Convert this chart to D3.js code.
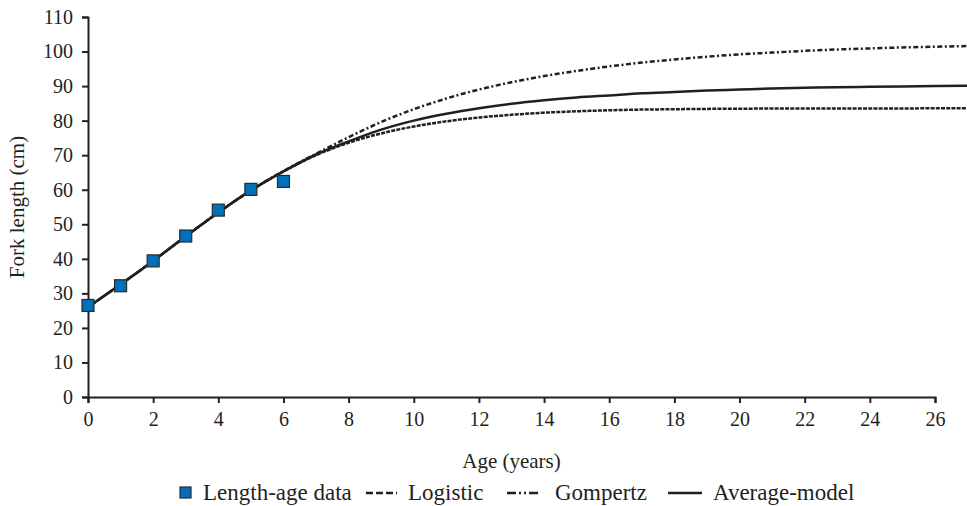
<!DOCTYPE html>
<html>
<head>
<meta charset="utf-8">
<script src="https://cdn.jsdelivr.net/npm/d3@7"></script>
<style>
  body { margin: 0; background: #fff; }
  svg text { font-family: "Liberation Serif", "Times New Roman", serif; fill: #231f20; }
</style>
</head>
<body>
<div id="chart-area"></div>
<script>
// observed length-at-age
var dataAges = [0, 1, 2, 3, 4, 5, 6];
var dataLengths = [26.5, 32.2, 39.4, 46.6, 54.1, 60.1, 62.4];

var curveAges = [0,1,2,3,4,5,6,7,8,9,10,11,12,13,14,15,16,17,18,19,20,21,22,23,24,25,26,27];
var logistic = [26.0,32.6,39.4,46.5,53.4,59.8,65.3,70.0,73.6,76.3,78.3,79.8,80.9,81.7,82.3,82.7,83.0,83.2,83.3,83.4,83.45,83.5,83.5,83.5,83.5,83.5,83.6,83.6];
var gompertz = [26.0,32.6,39.4,46.5,53.4,59.8,65.4,70.4,75.2,79.6,83.3,86.4,89.0,91.1,92.9,94.4,95.7,96.8,97.7,98.5,99.2,99.7,100.2,100.6,100.9,101.2,101.4,101.6];
var average = [26.0,32.6,39.4,46.5,53.4,59.8,65.3,70.2,74.0,77.4,80.0,82.0,83.6,84.9,85.9,86.7,87.3,87.9,88.3,88.7,89.0,89.3,89.5,89.7,89.8,89.9,90.0,90.1];

var xTicks = [0,2,4,6,8,10,12,14,16,18,20,22,24,26];
var yTicks = [0,10,20,30,40,50,60,70,80,90,100,110];

var width = 967, height = 506;
var ink = "#231f20";
var serif = "Liberation Serif, Times New Roman, serif";

var svg = d3.select("#chart-area").append("svg")
    .attr("width", width)
    .attr("height", height);

var x = d3.scaleLinear().domain([0, 26]).range([88, 935]);
var y = d3.scaleLinear().domain([0, 110]).range([397, 17]);

// axes
var bottomAxis = d3.axisBottom(x).tickValues(xTicks).tickSize(6).tickSizeOuter(6).tickPadding(9);
svg.append("g")
    .attr("transform", "translate(0," + y(0) + ")")
    .call(bottomAxis)
    .attr("font-family", serif)
    .attr("font-size", "20px");

var leftAxis = d3.axisLeft(y).tickValues(yTicks).tickSize(6).tickSizeOuter(6).tickPadding(9);
svg.append("g")
    .attr("transform", "translate(" + x(0) + ",0)")
    .call(leftAxis)
    .attr("font-family", serif)
    .attr("font-size", "20px");

svg.selectAll(".domain, .tick line").attr("stroke", ink).attr("stroke-width", 2);
svg.selectAll(".tick text").attr("fill", ink);

// curves
var line = d3.line()
    .x(function(d) { return x(d[0]); })
    .y(function(d) { return y(d[1]); })
    .curve(d3.curveMonotoneX);

var series = [
    {name: "Logistic", values: logistic, dash: "4,1.2"},
    {name: "Gompertz", values: gompertz, dash: "5,2.5,2,2.5"},
    {name: "Average-model", values: average, dash: null}
];

series.forEach(function(s) {
    svg.append("path")
        .datum(curveAges.map(function(a, i) { return [a, s.values[i]]; }))
        .attr("d", line)
        .attr("fill", "none")
        .attr("stroke", ink)
        .attr("stroke-width", 2.5)
        .attr("stroke-dasharray", s.dash);
});

// data squares
svg.selectAll("rect.pt")
    .data(dataAges.map(function(a, i) { return [a, dataLengths[i]]; }))
    .enter()
    .append("rect")
    .attr("class", "pt")
    .attr("x", function(d) { return x(d[0]) - 6; })
    .attr("y", function(d) { return y(d[1]) - 6; })
    .attr("width", 12)
    .attr("height", 12)
    .attr("fill", "#0070bb")
    .attr("stroke", "#2b2b2b")
    .attr("stroke-width", 1.2);

// axis titles
svg.append("text")
    .attr("x", (x(0) + x(26)) / 2)
    .attr("y", 468)
    .attr("text-anchor", "middle")
    .attr("font-size", "21px")
    .text("Age (years)");

svg.append("text")
    .attr("transform", "translate(24," + y(55) + ") rotate(-90)")
    .attr("text-anchor", "middle")
    .attr("font-size", "21px")
    .text("Fork length (cm)");

// legend
var ly = 493;
var legend = svg.append("g").attr("font-size", "23px");
legend.append("rect")
    .attr("x", 180).attr("y", ly - 6)
    .attr("width", 11).attr("height", 11)
    .attr("fill", "#0070bb").attr("stroke", "#2b2b2b").attr("stroke-width", 1.2);
legend.append("text").attr("x", 203).attr("y", ly + 7).text("Length-age data");

var legendLines = [
    {x1: 366, x2: 397, tx: 408, label: "Logistic", dash: "7,3"},
    {x1: 507, x2: 540, tx: 555, label: "Gompertz", dash: "9,3,2,3,2,3"},
    {x1: 668, x2: 702, tx: 713, label: "Average-model", dash: null}
];
legendLines.forEach(function(l) {
    legend.append("line")
        .attr("x1", l.x1).attr("x2", l.x2)
        .attr("y1", ly).attr("y2", ly)
        .attr("stroke", ink).attr("stroke-width", 2.5)
        .attr("stroke-dasharray", l.dash);
    legend.append("text").attr("x", l.tx).attr("y", ly + 7).text(l.label);
});
</script>
</body>
</html>
